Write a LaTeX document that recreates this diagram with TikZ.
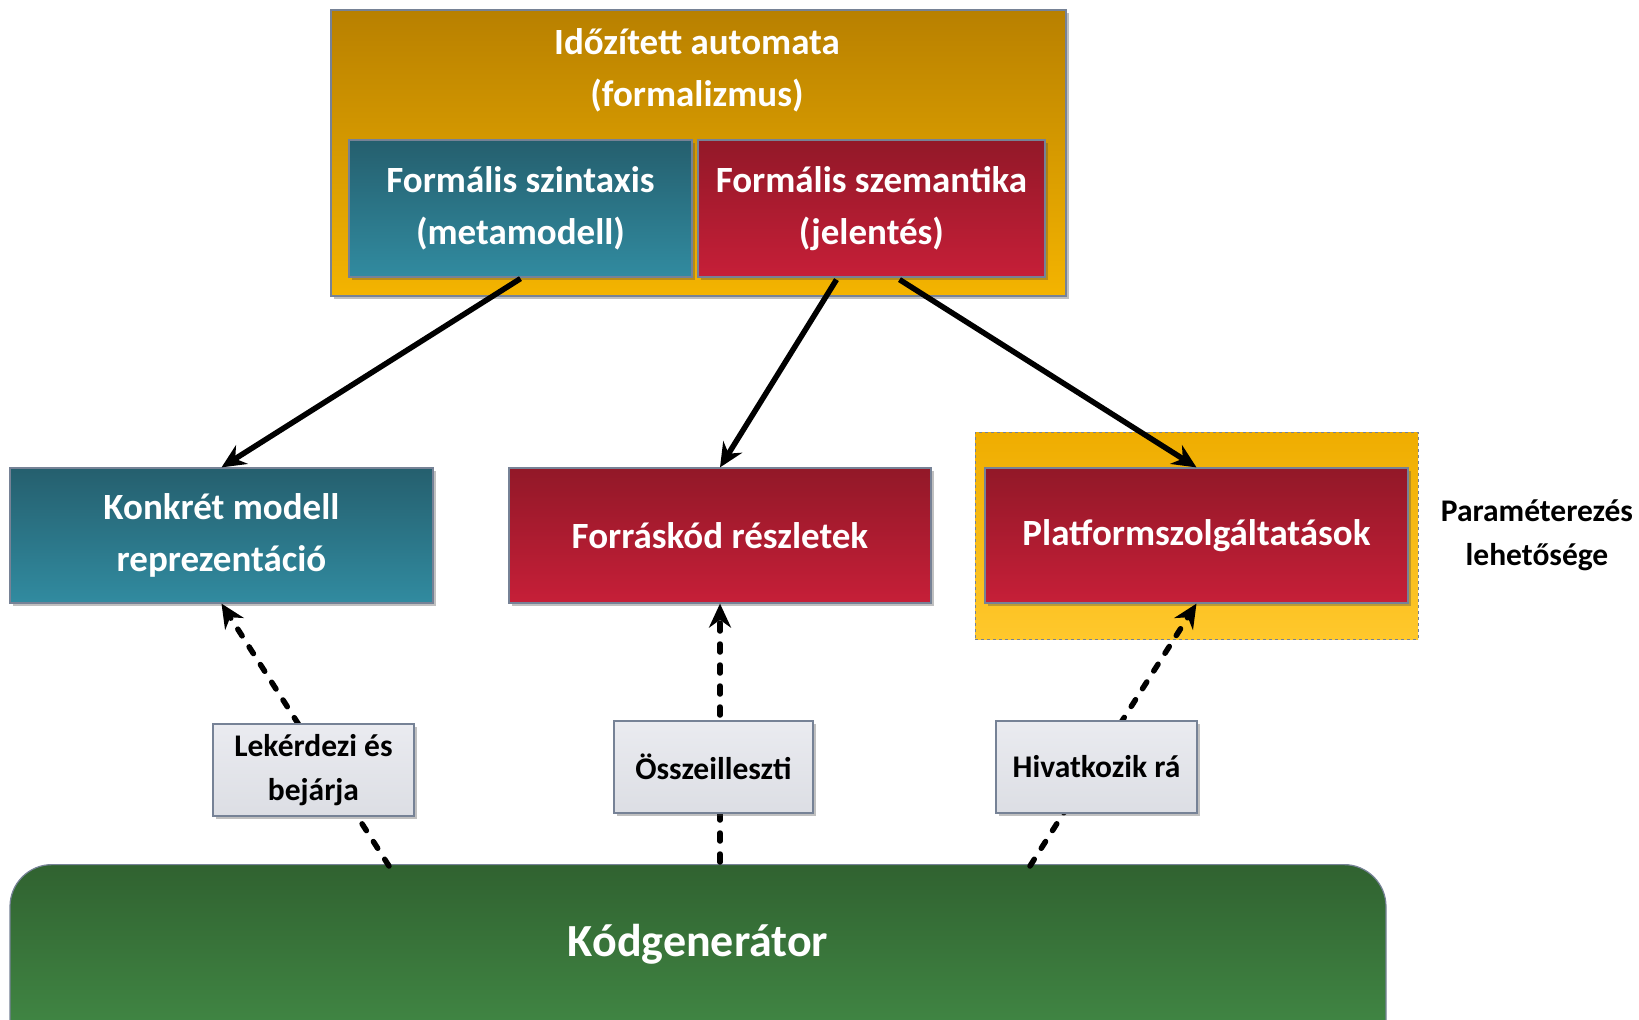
\documentclass[tikz,border=0pt]{standalone}
\usepackage{fontspec}
\setmainfont{Carlito}
\usetikzlibrary{arrows.meta,shadows,calc}

\definecolor{edge}{RGB}{118,130,150}
\definecolor{ambertop}{RGB}{184,128,0}
\definecolor{amberbot}{RGB}{244,180,0}
\definecolor{yellowtop}{RGB}{239,173,0}
\definecolor{yellowbot}{RGB}{255,200,44}
\definecolor{tealtop}{RGB}{37,95,110}
\definecolor{tealbot}{RGB}{49,139,160}
\definecolor{redtop}{RGB}{146,24,40}
\definecolor{redbot}{RGB}{198,31,56}
\definecolor{greentop}{RGB}{48,98,48}
\definecolor{greenbot}{RGB}{68,142,72}
\definecolor{notetop}{RGB}{234,235,240}
\definecolor{notebot}{RGB}{220,222,228}

\tikzset{
  softshadow/.style={drop shadow={shadow xshift=2.5pt, shadow yshift=-2.5pt,
      opacity=.35, fill=black!70}},
  plainbox/.style={rectangle, draw=edge, line width=1.2pt, inner sep=0pt,
      align=center, text=white, font=\bfseries\fontsize{37}{52}\selectfont},
  tealbox/.style={plainbox, softshadow, top color=tealtop, bottom color=tealbot},
  redbox/.style={plainbox, softshadow, top color=redtop, bottom color=redbot},
  amberbox/.style={plainbox, softshadow, top color=ambertop, bottom color=amberbot},
  groupbox/.style={rectangle, draw=edge, line width=1pt, dashed, inner sep=0pt,
      top color=yellowtop, bottom color=yellowbot},
  notebox/.style={rectangle, draw=edge, line width=1.4pt, inner sep=0pt, softshadow,
      top color=notetop, bottom color=notebot, align=center, text=black,
      font=\bfseries\fontsize{31.5}{44}\selectfont},
  gentbox/.style={rectangle, rounded corners=42pt, draw=edge, line width=1.2pt,
      top color=greentop, bottom color=greenbot, text=white, inner ysep=0pt,
      font=\bfseries\fontsize{46}{55}\selectfont},
  conn/.style={line width=5.5pt, -{Stealth[length=24pt,width=22pt]}},
  dconn/.style={conn, dash pattern=on 8pt off 13pt, line cap=round},
}

\begin{document}
\begin{tikzpicture}[x=1pt,y=-1pt]
\useasboundingbox (0,0) rectangle (1639,1020);
\clip (0,0) rectangle (1639,1020);
\fill[white] (0,0) rectangle (1639,1020);

% formalism frame with its two parts
\node[amberbox, minimum width=735pt, minimum height=286pt] (outer) at (698.5,153) {};
\node[align=center, text=white, font=\bfseries\fontsize{37}{52}\selectfont]
  (title) at (697,70) {Időzített automata\\(formalizmus)};
\node[tealbox, minimum width=343pt, minimum height=137pt] (syn) at (520.5,208.5)
  {Formális szintaxis\\(metamodell)};
\node[redbox, minimum width=347pt, minimum height=137pt] (sem) at (871.5,208.5)
  {Formális szemantika\\(jelentés)};

% middle row
\node[groupbox, minimum width=443pt, minimum height=207pt] (grp) at (1196.5,535.5) {};
\node[tealbox, minimum width=423pt, minimum height=135pt] (konk) at (221.5,535.5)
  {Konkrét modell\\reprezentáció};
\node[redbox, minimum width=422pt, minimum height=135pt] (forr) at (720,535.5)
  {Forráskód részletek};
\node[redbox, minimum width=423pt, minimum height=135pt] (plat) at (1196.5,535.5)
  {Platformszolgáltatások};
\node[align=center, font=\bfseries\fontsize{31.5}{44}\selectfont] (param) at (1537,535)
  {Paraméterezés\\lehetősége};

% code generator
\node[gentbox, minimum width=1376pt, text height=92pt, text depth=108pt, anchor=north]
  (gen) at (698,864) {Kódgenerátor};

% generator uses the middle row
\draw[dconn] ($(gen.north)+(-309,2)$) -- (konk.south);
\draw[dconn] ([yshift=2pt]gen.north -| forr.south) -- (forr.south);
\draw[dconn] ($(gen.north)+(332,2)$) -- (plat.south);

\node[notebox, minimum width=201pt, minimum height=92pt] (lek) at (313.5,770)
  {Lekérdezi és\\bejárja};
\node[notebox, minimum width=199pt, minimum height=92pt] (ossz) at (713.5,767)
  {Összeilleszti};
\node[notebox, minimum width=201pt, minimum height=92pt] (hiv) at (1096.5,767)
  {Hivatkozik rá};

% formalism defines the middle row
\draw[conn] ([yshift=-1pt]syn.south) -- (konk.north);
\draw[conn] ([xshift=-35pt,yshift=-2pt]sem.south) -- (forr.north);
\draw[conn] ([xshift=28pt,yshift=-2pt]sem.south) -- (plat.north);
\end{tikzpicture}
\end{document}
